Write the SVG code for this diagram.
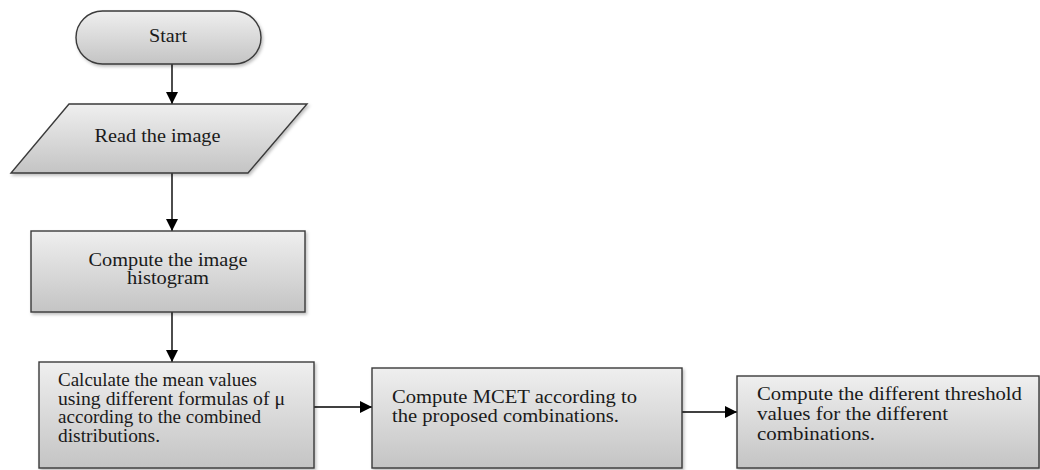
<svg xmlns="http://www.w3.org/2000/svg" width="1040" height="470" viewBox="0 0 1040 470">
<style>
.shape{stroke:#3a3a3a;stroke-width:1.4;filter:url(#sh)}
.txt{font-family:"Liberation Serif","Times New Roman",serif;font-size:18px;fill:#1a1a1a}
.mid{text-anchor:middle}
.con{stroke:#000;stroke-width:1.4;fill:none;marker-end:url(#ah)}
</style>
<defs>
<linearGradient id="g" x1="0" y1="0" x2="0" y2="1">
<stop offset="0" stop-color="#efefef"/>
<stop offset="1" stop-color="#c4c4c4"/>
</linearGradient>
<filter id="sh" x="-5%" y="-5%" width="112%" height="120%">
<feDropShadow dx="1.5" dy="2" stdDeviation="1.5" flood-color="#000" flood-opacity="0.25"/>
</filter>
<marker id="ah" viewBox="0 0 12 12" refX="12" refY="6" markerWidth="12" markerHeight="12" markerUnits="userSpaceOnUse" orient="auto">
<path d="M0,0 L12,6 L0,12 z" fill="#000"/>
</marker>
</defs>
<g id="connectors">
<line class="con" x1="172" y1="64" x2="172" y2="104"/>
<line class="con" x1="172" y1="173" x2="172" y2="231"/>
<line class="con" x1="172" y1="312" x2="172" y2="362"/>
<line class="con" x1="314" y1="407" x2="372" y2="407"/>
<line class="con" x1="682" y1="412" x2="737" y2="412"/>
</g>
<g id="start">
<rect class="shape" x="76" y="11" width="185" height="53" rx="26.5" fill="url(#g)"/>
<text class="txt mid" x="168" y="42" textLength="38" lengthAdjust="spacingAndGlyphs">Start</text>
</g>
<g id="read">
<polygon class="shape" points="69,104 307,104 248,173 11,173" fill="url(#g)"/>
<text class="txt mid" x="157.5" y="142" textLength="126" lengthAdjust="spacingAndGlyphs">Read the image</text>
</g>
<g id="histogram">
<rect class="shape" x="31" y="231" width="274" height="81" fill="url(#g)"/>
<text class="txt mid" x="168" y="266" textLength="159" lengthAdjust="spacingAndGlyphs">Compute the image</text>
<text class="txt mid" x="168" y="284" textLength="82" lengthAdjust="spacingAndGlyphs">histogram</text>
</g>
<g id="mean">
<rect class="shape" x="39" y="362" width="275" height="106" fill="url(#g)"/>
<text class="txt" x="58" y="386" textLength="199" lengthAdjust="spacingAndGlyphs">Calculate the mean values</text>
<text class="txt" x="58" y="404.5" textLength="227" lengthAdjust="spacingAndGlyphs">using different formulas of μ</text>
<text class="txt" x="58" y="423" textLength="203" lengthAdjust="spacingAndGlyphs">according to the combined</text>
<text class="txt" x="58" y="442" textLength="102" lengthAdjust="spacingAndGlyphs">distributions.</text>
</g>
<g id="mcet">
<rect class="shape" x="372" y="368" width="310" height="100" fill="url(#g)"/>
<text class="txt" x="392" y="403" textLength="245" lengthAdjust="spacingAndGlyphs">Compute MCET according to</text>
<text class="txt" x="392" y="422" textLength="227" lengthAdjust="spacingAndGlyphs">the proposed combinations.</text>
</g>
<g id="threshold">
<rect class="shape" x="737" y="376" width="302" height="92" fill="url(#g)"/>
<text class="txt" x="757" y="399.5" textLength="265" lengthAdjust="spacingAndGlyphs">Compute the different threshold</text>
<text class="txt" x="757" y="420" textLength="191" lengthAdjust="spacingAndGlyphs">values for the different</text>
<text class="txt" x="757" y="439.5" textLength="118" lengthAdjust="spacingAndGlyphs">combinations.</text>
</g>
</svg>
